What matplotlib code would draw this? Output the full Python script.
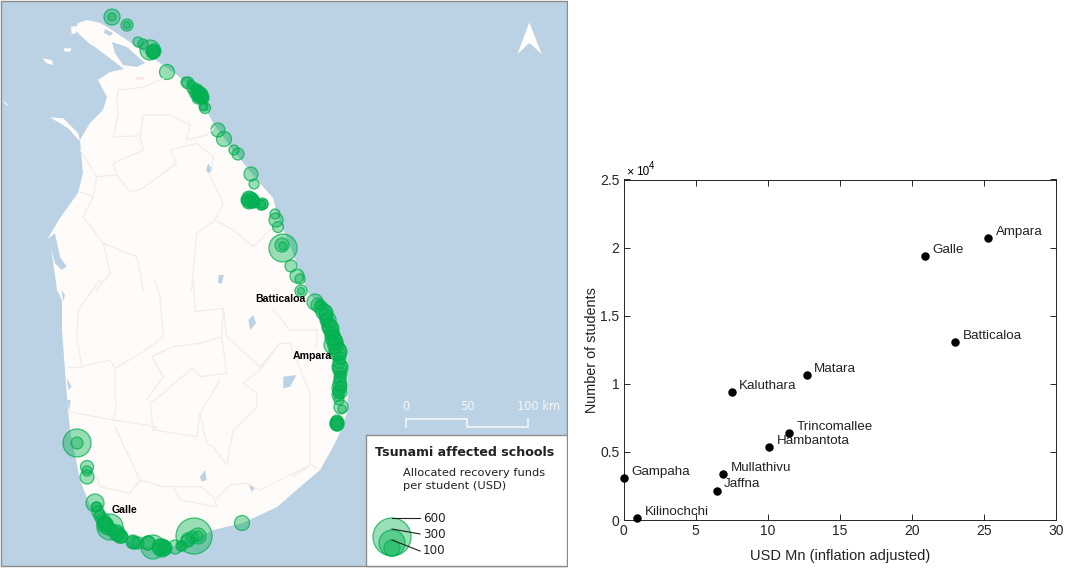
import matplotlib
matplotlib.use('Agg')
import matplotlib.pyplot as plt
from matplotlib.patches import Circle, Polygon, Rectangle

# scatter data
districts = ['Ampara', 'Galle', 'Batticaloa', 'Matara', 'Kaluthara', 'Trincomallee',
             'Hambantota', 'Mullathivu', 'Gampaha', 'Jaffna', 'Kilinochchi']
usd_mn = [25.3, 20.9, 23.0, 12.7, 7.5, 11.5, 10.1, 6.9, 0.05, 6.5, 0.95]
students = [20700, 19400, 13100, 10650, 9400, 6400, 5350, 3400, 3100, 2100, 150]
x_ticks = [0, 5, 10, 15, 20, 25, 30]
y_ticks = [0, 5000, 10000, 15000, 20000, 25000]
y_tick_labels = ['0', '0.5', '1', '1.5', '2', '2.5']

# schools on the map, in picture pixels (x, y, radius)
school_x = [112, 112, 127, 127, 138, 143, 150, 153, 154, 167, 188, 191, 197, 200, 198, 202, 205, 203,
            218, 224, 234, 238, 251, 254, 250, 252, 262, 261, 275, 276, 278, 283, 282, 283, 291, 297, 300,
            301, 301, 315, 320, 326, 327, 330, 332, 335, 333, 338, 340, 340, 341, 340, 339, 341, 342, 337, 337,
            77, 77, 87, 87, 87, 95, 97, 100, 105, 110, 106, 117, 120, 133, 138, 148, 153, 162, 163,
            175, 182, 188, 194, 198, 198, 242,
            # dense stretches
            318, 321, 324, 326, 328, 329, 331, 332, 333, 335, 336, 338, 339, 340, 339, 340, 340, 341,
            340, 340, 339, 339, 338, 337, 337, 337,
            249, 252, 249, 254, 247, 261, 263,
            193, 196, 199, 201, 198, 203, 186, 204, 153, 154,
            96, 98, 100, 103, 105, 108, 112, 118, 120, 122, 133, 135, 148, 160, 163, 165, 181, 187, 192]
school_y = [17, 17, 25, 25, 42, 44, 50, 52, 53, 72, 83, 84, 90, 95, 93, 98, 108, 106,
            130, 139, 150, 154, 174, 184, 200, 201, 204, 204, 214, 220, 227, 248, 245, 246, 266, 276, 279,
            291, 291, 302, 305, 313, 320, 327, 333, 340, 345, 352, 367, 377, 387, 392, 400, 407, 409, 423, 424,
            443, 443, 467, 471, 477, 503, 507, 515, 525, 527, 524, 533, 536, 542, 543, 543, 547, 548, 548,
            547, 546, 540, 536, 536, 536, 523,
            305, 308, 312, 316, 320, 325, 329, 334, 338, 342, 346, 350, 354, 358, 362, 366, 370, 374,
            380, 384, 388, 392, 395, 421, 424, 425,
            198, 200, 202, 202, 200, 205, 204,
            88, 92, 94, 96, 98, 98, 82, 107, 52, 51,
            507, 512, 516, 520, 524, 528, 530, 534, 536, 537, 542, 543, 543, 547, 548, 548, 546, 541, 537]
school_r = [8, 4, 6, 3.5, 5, 5, 10, 7, 5, 7.5, 6, 4, 6, 8, 7, 6, 5.5, 4,
            7, 7.5, 5, 6, 7, 5, 8, 7, 6, 4, 5, 7, 5.5, 14, 7, 4, 6, 7, 5,
            6, 3.5, 8, 5, 7, 6, 8, 7, 7, 9, 9, 8, 6, 6, 7, 5, 7, 4, 7, 6,
            14, 6, 6.5, 5, 7, 9, 5, 5, 8, 13, 7, 8, 7, 7, 6, 7, 12, 9, 6,
            7, 5, 7, 18, 8, 5, 7.5,
            7, 7, 8, 7, 8, 7, 8, 7, 8, 8, 8, 8, 7, 6, 6, 7, 7, 6,
            6, 7, 7, 6, 6, 6, 7, 6,
            7, 7, 7, 6, 6, 5, 5,
            6, 7, 7, 7, 6, 6, 5, 4, 6, 7,
            5, 6, 6, 7, 7, 7, 6, 7, 7, 6, 6, 6, 7, 8, 8, 7, 5, 6, 6]

legend_values = ['600', '300', '100']
legend_r = [19, 13, 8]

# coast outline, pixels
coast_x = [78, 87, 100, 115, 137, 160, 177, 197, 213, 233, 257, 273, 278, 293, 298, 308, 330, 347, 348, 347,
           338, 333, 320, 300, 277, 243, 213, 187, 160, 133, 110, 93, 80, 70, 67, 62, 62, 57, 50, 48, 60, 78,
           83, 80, 90, 103, 107, 98, 110, 124, 95, 90, 80, 75]
coast_y = [23, 20, 23, 32, 47, 63, 75, 92, 123, 150, 180, 198, 217, 253, 267, 293, 313, 350, 387, 413,
           437, 447, 470, 487, 507, 523, 530, 543, 550, 543, 533, 513, 480, 430, 397, 330, 300, 290, 240, 238, 218, 193,
           173, 140, 123, 110, 97, 80, 72, 69, 47, 44, 35, 30]

# lagoons and tanks, zoom-crop pixels (3x)
water_top = [
    [(336, 126), (381, 141), (435, 189), (411, 201), (369, 195), (345, 159)],
    [(315, 87), (339, 99), (330, 108), (312, 99)],
    [(145, 715), (165, 700), (180, 770), (200, 800), (185, 810), (165, 790)],
    [(625, 490), (638, 510), (625, 520), (618, 510)],
    [(655, 825), (672, 825), (665, 850), (655, 850)],
]
water_bottom = [
    [(745, 120), (760, 105), (768, 130), (750, 150)],
    [(850, 290), (890, 285), (870, 320), (850, 325)],
    [(600, 590), (615, 570), (620, 600), (605, 605)],
    [(745, 610), (765, 625), (755, 635)],
    [(185, 30), (195, 45), (190, 65)],
    [(200, 295), (215, 320), (205, 330)],
    [(200, 360), (212, 360), (208, 392)],
]
islands = [
    [(128, 175), (155, 180), (160, 195), (140, 190)],
    [(190, 145), (215, 145), (210, 155), (195, 155)],
    [(213, 80), (228, 78), (228, 100), (215, 102)],
    [(150, 352), (190, 355), (235, 400), (240, 425), (205, 385)],
    [(5, 298), (25, 315), (20, 316)],
]
peach_mark = [(405, 232), (435, 230), (432, 240), (410, 240)]

# district boundaries, zoom-crop pixels (3x)
lines_top = [
    [(340, 410), (355, 340), (350, 300), (355, 270), (430, 262), (490, 235)],
    [(340, 410), (420, 408), (430, 345), (510, 345), (570, 375), (560, 420), (620, 405), (640, 385)],
    [(240, 450), (290, 530), (350, 525), (340, 490), (430, 450), (420, 410)],
    [(290, 530), (280, 590), (240, 575)],
    [(350, 525), (390, 575), (420, 570), (530, 490), (510, 450), (590, 430), (640, 470), (630, 530), (670, 610),
     (645, 660), (700, 690), (760, 740), (810, 690)],
    [(280, 590), (250, 650), (310, 730), (410, 770), (430, 870)],
    [(310, 730), (330, 820), (290, 870)],
    [(645, 660), (590, 700), (575, 870)],
]
lines_bottom = [
    [(300, 0), (235, 90), (230, 170), (245, 260), (330, 240), (345, 265), (430, 215), (490, 170), (480, 50), (465, 0)],
    [(245, 260), (205, 260)],
    [(580, 0), (585, 95), (670, 85), (665, 170), (600, 190), (520, 200), (455, 230), (490, 290), (440, 360)],
    [(665, 170), (680, 280), (600, 290), (575, 265), (490, 340), (450, 370), (460, 450), (590, 470), (600, 400), (660, 300)],
    [(345, 265), (345, 340), (350, 380), (340, 420), (205, 395)],
    [(340, 420), (470, 440), (460, 450)],
    [(345, 440), (420, 600), (390, 640), (300, 620), (290, 590)],
    [(420, 600), (490, 620), (520, 620), (540, 660), (650, 680), (640, 650), (600, 620), (520, 620)],
    [(650, 655), (690, 615), (740, 610), (780, 630), (930, 555), (880, 590)],
    [(600, 400), (620, 490), (640, 500), (680, 555), (700, 450), (770, 380), (770, 340), (730, 310), (780, 270),
     (840, 190), (870, 190), (930, 340), (930, 550), (960, 570)],
    [(670, 85), (680, 170), (780, 260), (840, 190)],
    [(820, 90), (870, 150), (950, 150), (950, 200)],
]

SEA = '#bad2e4'
LAND = '#fffbf9'
BORDER = '#f0ecea'


def top(pts):
    return [(x / 3, y / 3) for x, y in pts]


def bottom(pts):
    return [(x / 3, y / 3 + 280) for x, y in pts]


fig = plt.figure(figsize=(10.65, 5.68), dpi=100)

# map panel, drawn in picture pixels
ax = fig.add_axes([0, 0, 568 / 1065, 1])
ax.set_xlim(0, 568)
ax.set_ylim(568, 0)
ax.axis('off')
ax.add_patch(Rectangle((1, 1), 566, 565, fc=SEA, ec='#8c8c8c', lw=1))
ax.add_patch(Polygon(list(zip(coast_x, coast_y)), fc=LAND, ec='none'))
for p in islands:
    ax.add_patch(Polygon(top(p), fc=LAND, ec='none'))
ax.add_patch(Polygon(top(peach_mark), fc='#fbeadf', ec='none'))
for p in lines_top:
    ax.plot(*zip(*top(p)), color=BORDER, lw=0.9)
for p in lines_bottom:
    ax.plot(*zip(*bottom(p)), color=BORDER, lw=0.9)
for p in water_top:
    ax.add_patch(Polygon(top(p), fc=SEA, ec='none'))
for p in water_bottom:
    ax.add_patch(Polygon(bottom(p), fc=SEA, ec='none'))

for x, y, r in zip(school_x, school_y, school_r):
    ax.add_patch(Circle((x, y), r, fc=(0, 0.69, 0.31, 0.4), ec=(0, 0.69, 0.31, 0.75), lw=0.9))

for name, x, y in [('Batticaloa', 280, 299), ('Ampara', 312, 356), ('Galle', 124, 510)]:
    ax.text(x, y, name, family='Liberation Sans', weight='bold', fontsize=7.6, ha='center', va='center')

# north arrow
ax.add_patch(Polygon([(529.3, 22.5), (517.5, 54), (529.3, 43), (541.7, 54)], fc='white', ec='none'))

# scale bar
ax.plot([406, 406, 467, 467, 528, 528], [427, 419, 419, 427, 427, 419], color='#f4f7fa', lw=1.2)
for s, x in [('0', 406), ('50', 467), ('100 km', 539)]:
    ax.text(x, 407, s, color='#f4f7fa', fontsize=8.3, ha='center', va='center')

# legend box
ax.add_patch(Rectangle((366, 435), 201, 131, fc='white', ec='#8c8c8c', lw=1))
ax.text(375, 452, 'Tsunami affected schools', fontsize=9.1, weight='bold', va='center', color='#222222')
ax.text(403, 473, 'Allocated recovery funds', fontsize=8.2, va='center', color='#222222')
ax.text(403, 486, 'per student (USD)', fontsize=8.2, va='center', color='#222222')
for r in legend_r:
    ax.add_patch(Circle((392, 556 - r), r, fc=(0, 0.69, 0.31, 0.4), ec=(0, 0.69, 0.31, 0.75), lw=0.9))
for s, y0, y1 in zip(legend_values, [518, 529, 540], [518, 534, 551]):
    ax.plot([392, 420], [y0, y1], color='#222222', lw=0.8)
    ax.text(423, y1, s, fontsize=8.6, va='center', color='#222222')

# scatter panel
L, R, T, B = 623.5, 1056, 179.5, 520
ax2 = fig.add_axes([L / 1065, 1 - B / 568, (R - L) / 1065, (B - T) / 568])
ax2.scatter(usd_mn, students, s=37, color='black', zorder=3, clip_on=False, linewidths=0)
offsets = {'Jaffna': (7, 7)}
for name, x, y in zip(districts, usd_mn, students):
    ax2.annotate(name, (x, y), xytext=offsets.get(name, (7.5, 6)), textcoords='offset pixels',
                 fontsize=9.6, family='Liberation Sans', color='#222222', va='center')
ax2.set_xlim(0, 30)
ax2.set_ylim(0, 25000)
ax2.set_xticks(x_ticks)
ax2.set_yticks(y_ticks, y_tick_labels)
ax2.tick_params(direction='in', length=4, width=0.7, top=True, right=True, labelsize=10, pad=3,
                colors='#262626')
for lab in ax2.get_xticklabels() + ax2.get_yticklabels():
    lab.set_family('Liberation Sans')
for s in ax2.spines.values():
    s.set_linewidth(0.7)
    s.set_color('#262626')
ax2.set_xlabel('USD Mn (inflation adjusted)', fontsize=10.5, family='Liberation Sans', color='#222222', labelpad=8)
ax2.set_ylabel('Number of students', fontsize=10.4, family='Liberation Sans', color='#222222', labelpad=1)
ax2.text(0.005, 1.0123, '\u00d7', transform=ax2.transAxes, fontsize=9, family='Liberation Sans', va='baseline')
ax2.text(0.029, 1.0123, '10', transform=ax2.transAxes, fontsize=8.5, family='Liberation Sans', va='baseline')
ax2.text(0.059, 1.031, '4', transform=ax2.transAxes, fontsize=7, family='Liberation Sans', va='baseline')

fig.savefig('out.png', dpi=100)
